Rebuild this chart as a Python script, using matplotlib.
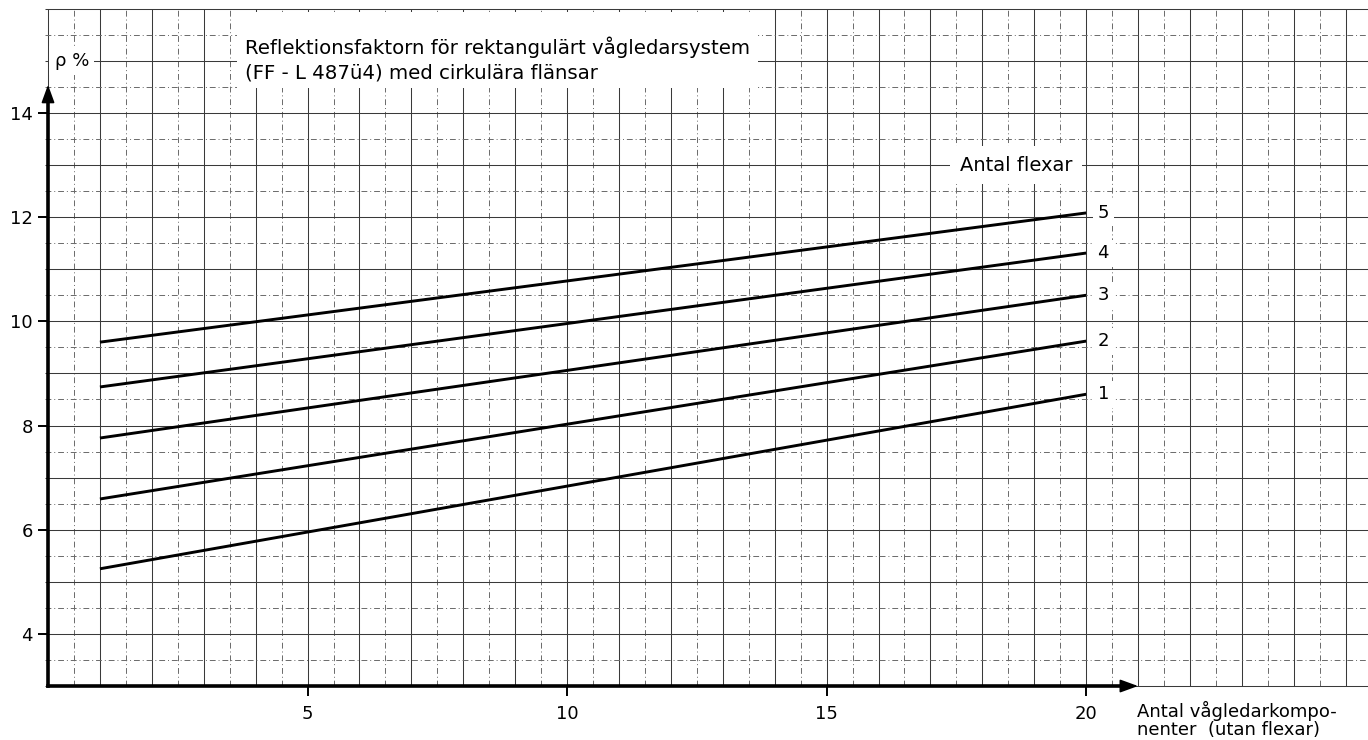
import numpy as np
import matplotlib.pyplot as plt
from matplotlib.patches import Rectangle

# Values (rho in %, at 1 and 20 waveguide components)
n_flexar = [1, 2, 3, 4, 5]
komponenter = [1, 20]
rho_vid_1 = [5.25, 6.59, 7.76, 8.74, 9.60]
rho_vid_20 = [8.60, 9.62, 10.50, 11.31, 12.08]

x_ticks = [5, 10, 15, 20]
y_ticks = [4, 6, 8, 10, 12, 14]

title_text = "Reflektionsfaktorn för rektangulärt vågledarsystem\n(FF - L 487ü4) med cirkulära flänsar"
ylabel_text = "ρ %"
xlabel_text = "Antal vågledarkompo-\nnenter  (utan flexar)"
legend_title = "Antal flexar"

plt.rcParams['font.family'] = ['DejaVu Sans']

fig = plt.figure(figsize=(13.68, 7.40), dpi=100)
ax = fig.add_axes([0, 0, 1, 1])
ax.set_xlim(-0.925, 25.43)
ax.set_ylim(1.964, 16.167)

# graph paper grid: solid on whole units, dashed on halves
grid_x = np.arange(0, 25.5, 0.5)
grid_y = np.arange(3, 16.01, 0.5)
for gx in grid_x:
    if gx == int(gx):
        ax.vlines(gx, 3, 16, color='#3a3a3a', lw=0.75, zorder=1)
    else:
        ax.vlines(gx, 3, 16, color='#6a6a6a', lw=0.7, linestyles=(0, (6, 3, 1, 3)), zorder=1)
for gy in grid_y:
    if gy == int(gy):
        ax.hlines(gy, -0.05, 25.43, color='#3a3a3a', lw=0.75, zorder=1)
    else:
        ax.hlines(gy, -0.05, 25.43, color='#6a6a6a', lw=0.7, linestyles=(0, (6, 3, 1, 3)), zorder=1)

# the curves
for n, y0, y1 in zip(n_flexar, rho_vid_1, rho_vid_20):
    ax.plot(komponenter, [y0, y1], color='black', lw=2.1, solid_capstyle='butt', zorder=4)
    ax.text(komponenter[-1] + 0.33, y1, str(n), fontsize=13, ha='center', va='center', zorder=5,
            bbox=dict(boxstyle='square,pad=0.25', fc='white', ec='none'))

# axes with arrows
for s in ['top', 'right']:
    ax.spines[s].set_visible(False)
ax.spines['left'].set_position(('data', 0))
ax.spines['bottom'].set_position(('data', 3))
ax.spines['left'].set_bounds(3, 14.3)
ax.spines['bottom'].set_bounds(0, 20.7)
ax.spines['left'].set_linewidth(2.6)
ax.spines['bottom'].set_linewidth(2.6)
ax.spines['left'].set_zorder(6)
ax.spines['bottom'].set_zorder(6)

head = dict(arrowstyle='-|>,head_length=0.55,head_width=0.2', fc='black', ec='black',
            lw=1.2, shrinkA=0, shrinkB=0, mutation_scale=20)
ax.annotate('', xy=(0, 14.54), xytext=(0, 14.2), arrowprops=head, zorder=7)
ax.annotate('', xy=(21.0, 3), xytext=(20.6, 3), arrowprops=head, zorder=7)

ax.set_xticks(x_ticks)
ax.set_yticks(y_ticks)
ax.set_xticklabels([str(v) for v in x_ticks])
ax.set_yticklabels([str(v) for v in y_ticks])
ax.tick_params(axis='both', direction='out', length=7.5, width=1.4, labelsize=13, color='black')
ax.tick_params(axis='y', pad=3.5)
ax.tick_params(axis='x', pad=6)

# white patch on the paper behind the title
ax.add_patch(Rectangle((3.64, 14.48), 10.04, 1.46, fc='white', ec='none', zorder=3))
ax.text(3.8, 15.02, title_text, fontsize=14.2, ha='left', va='center', linespacing=1.35, zorder=5)

ax.text(0.46, 15.0, ylabel_text, fontsize=13, ha='center', va='center', zorder=5,
        bbox=dict(boxstyle='square,pad=0.3', fc='white', ec='none'))
ax.text(17.57, 13.0, legend_title, fontsize=14, ha='left', va='center', zorder=5,
        bbox=dict(boxstyle='square,pad=0.5', fc='white', ec='none'))
ax.text(20.98, 2.35, xlabel_text, fontsize=13, ha='left', va='center', linespacing=0.95, zorder=5)

fig.savefig('out.png', dpi=100, facecolor='white')
